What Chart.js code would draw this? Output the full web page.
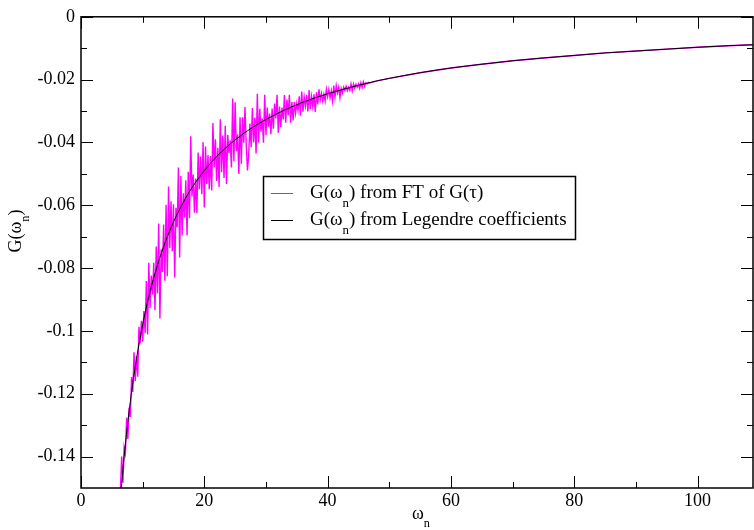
<!DOCTYPE html>
<html>
<head>
<meta charset="utf-8">
<script src="https://cdn.jsdelivr.net/npm/chart.js@4.4.0/dist/chart.umd.min.js"></script>
<style>
body { margin: 0; background: #fff; }
</style>
</head>
<body>
<canvas id="myChart" width="754" height="530"></canvas>
<script>
// G(w_n) from FT of G(tau) - noisy one, read in two passes (even / odd points)
const wFT = [6.2,
    6.6,7.0,7.4,7.8,8.2,8.6,9.0,9.4,9.8,10.2,
    10.6,11.0,11.4,11.8,12.2,12.6,13.0,13.4,13.8,14.2,
    14.6,15.0,15.4,15.8,16.2,16.6,17.0,17.4,17.8,18.2,
    18.6,19.0,19.4,19.8,20.2,20.6,21.0,21.4,21.8,22.2,
    22.6,23.0,23.4,23.8,24.2,24.6,25.0,25.4,25.8,26.2,
    26.6,27.0,27.4,27.8,28.2,28.6,29.0,29.4,29.8,30.2,
    30.6,31.0,31.4,31.8,32.2,32.6,33.0,33.4,33.8,34.2,
    34.6,35.0,35.4,35.8,36.2,36.6,37.0,37.4,37.8,38.2,
    38.6,39.0,39.4,39.8,40.2,40.6,41.0,41.4,41.8,42.2,
    42.6,43.0,43.4,43.8,44.2,44.6,45.0,45.4,45.8,46.2,
    46.6,
    48,50,55,60,65,70,75,80,85,90,95,100,105,109];
const gFT = [-0.1600,
    -0.1400,-0.1370,-0.1276,-0.1244,-0.1147,-0.1068,-0.1081,-0.0987,-0.0968,-0.0937,
    -0.0841,-0.0783,-0.0824,-0.0783,-0.0731,-0.0658,-0.0740,-0.0661,-0.0598,-0.0540,
    -0.0587,-0.0597,-0.0608,-0.0480,-0.0507,-0.0562,-0.0520,-0.0493,-0.0380,-0.0502,
    -0.0515,-0.0432,-0.0445,-0.0399,-0.0413,-0.0440,-0.0443,-0.0338,-0.0390,-0.0417,
    -0.0326,-0.0378,-0.0347,-0.0376,-0.0393,-0.0260,-0.0272,-0.0374,-0.0320,-0.0320,
    -0.0287,-0.0489,-0.0340,-0.0290,-0.0321,-0.0245,-0.0293,-0.0324,-0.0248,-0.0289,
    -0.0308,-0.0292,-0.0276,-0.0248,-0.0286,-0.0289,-0.0249,-0.0263,-0.0248,-0.0271,
    -0.0271,-0.0276,-0.0253,-0.0238,-0.0255,-0.0248,-0.0233,-0.0254,-0.0247,-0.0240,
    -0.0231,-0.0244,-0.0247,-0.0231,-0.0231,-0.0236,-0.0219,-0.0219,-0.0224,-0.0228,
    -0.0224,-0.0221,-0.0224,-0.0214,-0.0214,-0.0215,-0.0214,-0.0210,-0.0207,-0.0210,
    -0.0209,
    -0.0204,-0.0196,-0.0178,-0.0163,-0.0151,-0.0140,-0.0131,-0.0123,-0.0115,-0.0109,-0.0103,-0.0097,-0.0092,-0.0089];
const wFTmid = [
    6.8,7.2,7.6,8.0,8.4,8.8,9.2,9.6,10.0,10.4,
    10.8,11.2,11.6,12.0,12.4,12.8,13.2,13.6,14.0,14.4,
    14.8,15.2,15.6,16.0,16.4,16.8,17.2,17.6,18.0,18.4,
    18.8,19.2,19.6,20.0,20.4,20.8,21.2,21.6,22.0,22.4,
    22.8,23.2,23.6,24.0,24.4,24.8,25.2,25.6,26.0,26.4,
    26.8,27.2,27.6,28.0,28.4,28.8,29.2,29.6,30.0,30.4,
    30.8,31.2,31.6,32.0,32.4,32.8,33.2,33.6,34.0,34.4,
    34.8,35.2,35.6,36.0,36.4,36.8,37.2,37.6,38.0,38.4,
    38.8,39.2,39.6,40.0,40.4,40.8,41.2,41.6,42.0,42.4,
    42.8,43.2,43.6,44.0,44.4,44.8,45.2,45.6,46.0,46.4,
    46.8];
const gFTmid = [
    -0.1483,-0.1389,-0.1345,-0.1274,-0.1194,-0.1159,-0.1146,-0.1039,-0.1034,-0.1007,
    -0.1011,-0.0927,-0.0884,-0.0934,-0.0881,-0.0960,-0.0812,-0.0840,-0.0826,-0.0737,
    -0.0746,-0.0830,-0.0670,-0.0766,-0.0696,-0.0639,-0.0696,-0.0641,-0.0572,-0.0624,
    -0.0625,-0.0549,-0.0565,-0.0607,-0.0532,-0.0549,-0.0553,-0.0480,-0.0523,-0.0542,
    -0.0495,-0.0513,-0.0532,-0.0434,-0.0480,-0.0460,-0.0428,-0.0500,-0.0468,-0.0401,
    -0.0406,-0.0440,-0.0415,-0.0400,-0.0435,-0.0400,-0.0366,-0.0401,-0.0377,-0.0350,
    -0.0374,-0.0356,-0.0324,-0.0369,-0.0351,-0.0327,-0.0337,-0.0313,-0.0337,-0.0330,
    -0.0307,-0.0298,-0.0315,-0.0302,-0.0284,-0.0301,-0.0293,-0.0286,-0.0303,-0.0279,
    -0.0265,-0.0268,-0.0268,-0.0254,-0.0258,-0.0267,-0.0256,-0.0242,-0.0257,-0.0242,
    -0.0234,-0.0235,-0.0234,-0.0235,-0.0227,-0.0224,-0.0228,-0.0224,-0.0221,-0.0214,
    -0.0211];

// G(w_n) from Legendre coefficients - smooth one
const wLeg = [6.2,6.6,7,7.5,8,8.5,9,10,11,12,13,14,15,16,17,18,20,22,24,26,28,30,33,36,40,45,48,50,55,60,65,70,75,80,85,90,95,100,105,109];
const gLeg = [-0.1581,-0.1485,-0.1400,-0.1307,-0.1225,-0.1153,-0.1089,-0.0980,-0.0891,-0.0817,-0.0754,-0.0700,-0.0653,-0.0613,-0.0576,-0.0544,-0.0490,-0.0445,-0.0408,-0.0377,-0.0350,-0.0327,-0.0297,-0.0272,-0.0245,-0.0218,-0.0204,-0.0196,-0.0178,-0.0163,-0.0151,-0.0140,-0.0131,-0.0123,-0.0115,-0.0109,-0.0103,-0.0097,-0.0092,-0.0089];

const xTicks = [0, 20, 40, 60, 80, 100];
const xTickLabels = ['0', '20', '40', '60', '80', '100'];
const xMinor = [10, 30, 50, 70, 90];
const yTicks = [-0.14, -0.12, -0.1, -0.08, -0.06, -0.04, -0.02, 0];
const yTickLabels = ['-0.14', '-0.12', '-0.1', '-0.08', '-0.06', '-0.04', '-0.02', '0'];
const yMinor = [-0.13, -0.11, -0.09, -0.07, -0.05, -0.03, -0.01];

const serif = "'Liberation Serif', 'Times New Roman', serif";

if (wFT.length !== gFT.length || wFTmid.length !== gFTmid.length || wLeg.length !== gLeg.length) {
    throw new Error('length mismatch ' + wFT.length + ' ' + gFT.length + ' ' + wFTmid.length + ' ' + gFTmid.length);
}

// both passes in one series, ordered by frequency
const ftPoints = wFT.map((w, i) => ({x: w, y: gFT[i]}))
    .concat(wFTmid.map((w, i) => ({x: w, y: gFTmid[i]})))
    .sort((a, b) => a.x - b.x);

// text like G(w) with subscript n
function subText(ctx, parts, x, y, size) {
    let cx = x;
    parts.forEach(p => {
        const s = p.sub ? size * 0.68 : size;
        ctx.font = s + 'px ' + serif;
        ctx.fillText(p.t, cx, p.sub ? y + size * 0.45 : y);
        cx += ctx.measureText(p.t).width;
    });
    return cx - x;
}
function partsWidth(ctx, parts, size) {
    let w = 0;
    parts.forEach(p => {
        ctx.font = (p.sub ? size * 0.68 : size) + 'px ' + serif;
        w += ctx.measureText(p.t).width;
    });
    return w;
}

const framePlugin = {
    id: 'framePlugin',
    afterDatasetsDraw(chart) {
        const ctx = chart.ctx;
        const a = chart.chartArea;
        const x = chart.scales.x;
        const y = chart.scales.y;
        ctx.save();
        ctx.strokeStyle = '#000';
        ctx.lineWidth = 1;
        ctx.beginPath();
        const xt = (v, len) => {
            const px = Math.round(x.getPixelForValue(v)) + 0.5;
            ctx.moveTo(px, a.bottom); ctx.lineTo(px, a.bottom - len);
            ctx.moveTo(px, a.top); ctx.lineTo(px, a.top + len);
        };
        const yt = (v, len) => {
            const py = Math.round(y.getPixelForValue(v)) + 0.5;
            ctx.moveTo(a.left, py); ctx.lineTo(a.left + len, py);
            ctx.moveTo(a.right, py); ctx.lineTo(a.right - len, py);
        };
        xTicks.forEach(v => xt(v, 12));
        xMinor.forEach(v => xt(v, 6));
        yTicks.forEach(v => yt(v, 12));
        yMinor.forEach(v => yt(v, 6));
        ctx.stroke();
        ctx.lineWidth = 1.5;
        ctx.strokeRect(a.left, a.top, a.right - a.left, a.bottom - a.top);
        ctx.restore();
    },
    afterDraw(chart) {
        const ctx = chart.ctx;
        ctx.save();
        ctx.fillStyle = '#000';
        ctx.textBaseline = 'alphabetic';
        ctx.textAlign = 'left';

        // x title
        const xt = [{t: 'ω'}, {t: 'n', sub: true}];
        const xw = partsWidth(ctx, xt, 18);
        subText(ctx, xt, 421 - xw / 2, 519, 18);

        // y title
        const yt = [{t: 'G(ω'}, {t: 'n', sub: true}, {t: ')'}];
        const yw = partsWidth(ctx, yt, 18);
        ctx.translate(21, 231);
        ctx.rotate(-Math.PI / 2);
        subText(ctx, yt, -yw / 2, 0, 18);
        ctx.setTransform(1, 0, 0, 1, 0, 0);

        // legend
        ctx.fillStyle = '#fff';
        ctx.fillRect(263.5, 176.5, 312, 63);
        ctx.strokeStyle = '#000';
        ctx.lineWidth = 1.5;
        ctx.strokeRect(263.5, 176.5, 312, 63);
        ctx.lineWidth = 1;
        ctx.strokeStyle = '#ff00ff';
        ctx.beginPath(); ctx.moveTo(271, 193.5); ctx.lineTo(293, 193.5); ctx.stroke();
        ctx.strokeStyle = '#000';
        ctx.beginPath(); ctx.moveTo(271, 220.5); ctx.lineTo(293, 220.5); ctx.stroke();
        ctx.fillStyle = '#000';
        subText(ctx, [{t: 'G(ω'}, {t: 'n', sub: true}, {t: ') from FT of G(τ)'}], 310, 198, 19);
        subText(ctx, [{t: 'G(ω'}, {t: 'n', sub: true}, {t: ') from Legendre coefficients'}], 310, 225, 19);
        ctx.restore();
    }
};

var ctx = document.getElementById('myChart').getContext('2d');
const chart = new Chart(ctx, {
    type: 'line',
    data: {
        datasets: [
            // first one is drawn on top
            {
                label: 'G(wn) from Legendre coefficients',
                data: wLeg.map((w, i) => ({x: w, y: gLeg[i]})),
                borderColor: '#000000',
                borderWidth: 1,
                pointRadius: 0,
                cubicInterpolationMode: 'monotone'
            },
            {
                label: 'G(wn) from FT of G(tau)',
                data: ftPoints,
                borderColor: '#ff00ff',
                borderWidth: 1.4,
                pointRadius: 0,
                tension: 0
            }
        ]
    },
    options: {
        responsive: false,
        animation: false,
        layout: { padding: { top: 14, right: 1, left: 0, bottom: 0 } },
        plugins: {
            legend: { display: false },
            tooltip: { enabled: false }
        },
        scales: {
            x: {
                type: 'linear',
                min: 0,
                max: 109,
                grid: { display: false, drawTicks: false },
                border: { display: false },
                afterBuildTicks: scale => { scale.ticks = xTicks.map(v => ({value: v})); },
                afterFit: scale => { scale.height = 42; },
                ticks: {
                    padding: 2,
                    color: '#000',
                    font: { family: serif, size: 18 },
                    maxRotation: 0,
                    callback: (v, i) => xTickLabels[i]
                }
            },
            y: {
                type: 'linear',
                min: -0.15,
                max: 0,
                grid: { display: false, drawTicks: false },
                border: { display: false },
                afterBuildTicks: scale => { scale.ticks = yTicks.map(v => ({value: v})); },
                afterFit: scale => { scale.width = 81; },
                ticks: {
                    padding: 6,
                    color: '#000',
                    font: { family: serif, size: 18 },
                    callback: (v, i) => yTickLabels[i]
                }
            }
        }
    },
    plugins: [framePlugin]
});
</script>
</body>
</html>
